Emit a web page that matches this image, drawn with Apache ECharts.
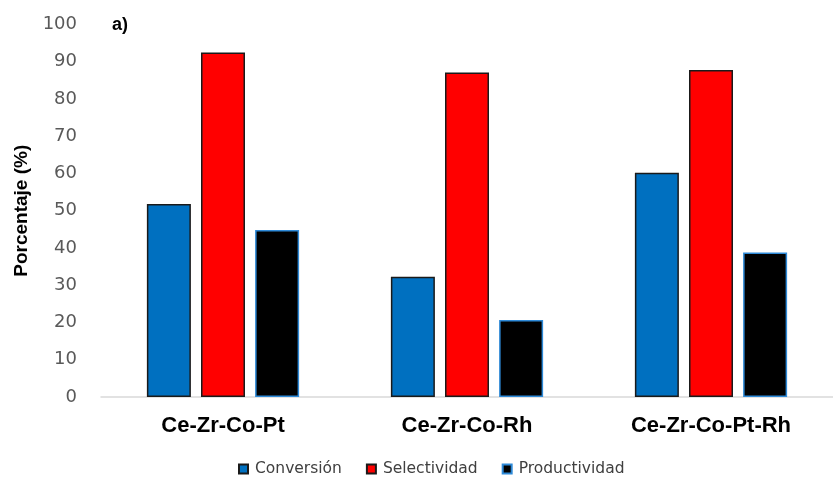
<!DOCTYPE html>
<html>
<head>
<meta charset="utf-8">
<script src="https://cdn.jsdelivr.net/npm/echarts@6/dist/echarts.min.js"></script>
<style>
  html, body { margin: 0; padding: 0; background: #fff; }
  #chart { width: 833px; height: 478px; }
</style>
</head>
<body>
<div id="chart"></div>
<script>
// Catalysts on the x axis
const categories = ['Ce-Zr-Co-Pt', 'Ce-Zr-Co-Rh', 'Ce-Zr-Co-Pt-Rh'];

// Percentages per catalyst
const conversion = [51.8, 32.3, 60.2];
const selectivity = [92.5, 87.1, 87.8];
const productivity = [44.8, 20.7, 38.8];

const seriesNames = ['Conversión', 'Selectividad', 'Productividad'];

const chart = echarts.init(document.getElementById('chart'), null, { renderer: 'canvas' });

function barSeries(name, data, fill, border) {
  return {
    name: name,
    type: 'bar',
    data: data,
    barWidth: 44,
    barGap: '23%',
    itemStyle: { color: fill, borderColor: border, borderWidth: 1.5 },
    emphasis: { disabled: true }
  };
}

chart.setOption({
  animation: false,
  grid: { left: 101, right: -3, top: 24.5, bottom: 81, containLabel: false },
  title: {
    text: 'a)',
    left: 107,
    top: 11,
    textStyle: { fontFamily: 'Liberation Sans, Arial, sans-serif', fontWeight: 'bold', fontSize: 18, color: '#000' }
  },
  legend: {
    data: seriesNames,
    left: 233,
    top: 456,
    icon: 'rect',
    itemWidth: 9,
    itemHeight: 9,
    itemGap: 24,
    textStyle: { fontFamily: 'DejaVu Sans, sans-serif', fontSize: 15.5, color: '#404040', padding: [0, 0, 0, 2] }
  },
  xAxis: {
    type: 'category',
    data: categories,
    axisLine: { lineStyle: { color: '#d9d9d9', width: 1.5 } },
    axisTick: { show: false },
    axisLabel: {
      margin: 18,
      fontFamily: 'Liberation Sans, Arial, sans-serif',
      fontWeight: 'bold',
      fontSize: 22,
      color: '#000'
    },
    splitLine: { show: false }
  },
  yAxis: {
    type: 'value',
    min: 0,
    max: 100,
    interval: 10,
    name: 'Porcentaje (%)',
    nameLocation: 'middle',
    nameGap: 70,
    nameRotate: 90,
    nameTextStyle: { fontFamily: 'Liberation Sans, Arial, sans-serif', fontWeight: 'bold', fontSize: 19, color: '#000' },
    axisLine: { show: false },
    axisTick: { show: false },
    splitLine: { show: false },
    axisLabel: {
      margin: 24,
      fontFamily: 'DejaVu Sans, sans-serif',
      fontSize: 18,
      color: '#595959'
    }
  },
  series: [
    barSeries(seriesNames[0], conversion, '#0070c0', '#1a1a1a'),
    barSeries(seriesNames[1], selectivity, '#ff0000', '#1a1a1a'),
    barSeries(seriesNames[2], productivity, '#000000', '#2e8ad8')
  ]
});
</script>
</body>
</html>
